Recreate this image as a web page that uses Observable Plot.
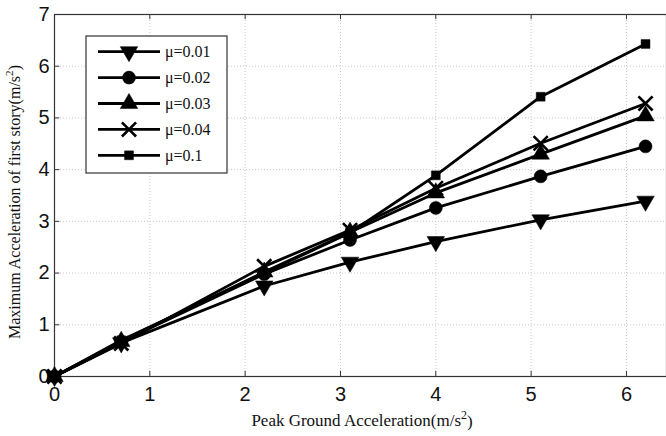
<!DOCTYPE html>
<html>
<head>
<meta charset="utf-8">
<script src="https://cdn.jsdelivr.net/npm/d3@7"></script>
<script src="https://cdn.jsdelivr.net/npm/@observablehq/plot@0.6"></script>
<style>
  html, body { margin: 0; padding: 0; background: #fff; }
  #chart { width: 666px; height: 436px; }
</style>
</head>
<body>
<div id="chart"></div>
<script>
// ---- data ----
const pga = [0, 0.7, 2.2, 3.1, 4.0, 5.1, 6.2];
const seriesNames = ["μ=0.01", "μ=0.02", "μ=0.03", "μ=0.04", "μ=0.1"];
const mu001 = [0, 0.65, 1.75, 2.21, 2.61, 3.03, 3.39];
const mu002 = [0, 0.67, 1.98, 2.64, 3.26, 3.87, 4.45];
const mu003 = [0, 0.68, 2.02, 2.79, 3.55, 4.30, 5.04];
const mu004 = [0, 0.64, 2.13, 2.83, 3.64, 4.51, 5.28];
const mu01  = [0, 0.70, 2.00, 2.78, 3.89, 5.41, 6.43];
const xTicks = [0, 1, 2, 3, 4, 5, 6];
const yTicks = [0, 1, 2, 3, 4, 5, 6, 7];
const xLabel = ["Peak Ground Acceleration(m/s", "2", ")"];
const yLabel = ["Maximum Acceleration of first story(m/s", "2", ")"];

const allSeries = [mu001, mu002, mu003, mu004, mu01];
const symbolSpec = [
  {symbol: "triangle", rotate: 180, r: 6.5, filled: true},
  {symbol: "circle", rotate: 0, r: 6.5, filled: true},
  {symbol: "triangle", rotate: 0, r: 6.5, filled: true},
  {symbol: "times", rotate: 0, r: 6.5, filled: false},
  {symbol: "square", rotate: 0, r: 5, filled: true}
];

const rows = [];
allSeries.forEach((vals, si) => vals.forEach((v, i) => rows.push({x: pga[i], y: v, s: seriesNames[si], si})));

const W = 666, H = 436, ML = 54, MR = 0, MT = 14, MB = 60;
const lineW = 2.8;

const marks = [
  Plot.gridX(xTicks, {stroke: "#bbb", strokeOpacity: 0.8, strokeDasharray: "1,2"}),
  Plot.gridY(yTicks, {stroke: "#bbb", strokeOpacity: 0.8, strokeDasharray: "1,2"}),
  Plot.axisX(xTicks, {tickSize: 0, tickPadding: 10, label: null, fontSize: 20, tickFormat: d3.format("d")}),
  Plot.axisY(yTicks, {tickSize: 0, tickPadding: 5, label: null, fontSize: 20, tickFormat: d3.format("d")}),
  Plot.ruleX(xTicks, {y1: 0, y2: 0.1, stroke: "#333"}),
  Plot.ruleX(xTicks, {y1: 6.9, y2: 7, stroke: "#333"}),
  Plot.ruleY(yTicks, {x1: 0, x2: 0.055, stroke: "#333"}),
  Plot.frame({stroke: "#333", strokeWidth: 1.2})
];
seriesNames.forEach((name, si) => {
  const d = rows.filter(r => r.si === si);
  marks.push(Plot.line(d, {x: "x", y: "y", stroke: "black", strokeWidth: lineW}));
  const sp = symbolSpec[si];
  marks.push(Plot.dot(d, {
    x: "x", y: "y", symbol: () => sp.symbol, r: sp.r, rotate: sp.rotate,
    fill: sp.filled ? "black" : "none", stroke: "black", strokeWidth: sp.filled ? 0.5 : 2.6
  }));
});

const svgPlot = Plot.plot({
  width: W, height: H,
  marginLeft: ML, marginRight: MR, marginTop: MT, marginBottom: MB,
  x: {domain: [0, 6.42]},
  y: {domain: [0, 7]},
  style: {fontFamily: "'Liberation Sans', Arial, sans-serif", fontSize: "20px", color: "#111", background: "#fff", overflow: "visible"},
  marks
});
document.getElementById("chart").appendChild(svgPlot);

// ---- legend and axis titles ----
const svg = d3.select(svgPlot);
const serif = "'Liberation Serif', 'Times New Roman', serif";

function addLabel(parts, x, y, rotate, fs) {
  const t = svg.append("text")
    .attr("text-anchor", "middle")
    .attr("font-family", serif)
    .attr("font-size", fs)
    .attr("fill", "#111")
    .attr("transform", `translate(${x},${y})` + (rotate ? " rotate(-90)" : ""));
  t.append("tspan").text(parts[0]);
  t.append("tspan").attr("font-size", fs * 0.7).attr("dy", "-0.6em").text(parts[1]);
  t.append("tspan").attr("dy", "0.45em").text(parts[2]);
}
addLabel(xLabel, 362, 426, false, 17);
addLabel(yLabel, 20, 202, true, 16);

const lg = svg.append("g");
const bx = 86, by = 36, bw = 141, bh = 137;
lg.append("rect").attr("x", bx).attr("y", by).attr("width", bw).attr("height", bh)
  .attr("fill", "white").attr("stroke", "#333").attr("stroke-width", 1.2);
const symMap = {triangle: d3.symbolTriangle, circle: d3.symbolCircle, square: d3.symbolSquare, times: d3.symbolTimes};
seriesNames.forEach((name, i) => {
  const yy = 51.7 + i * 25.9;
  lg.append("line").attr("x1", 98).attr("x2", 160).attr("y1", yy).attr("y2", yy)
    .attr("stroke", "black").attr("stroke-width", lineW);
  const sp = symbolSpec[i];
  lg.append("path")
    .attr("d", d3.symbol(symMap[sp.symbol], Math.PI * sp.r * sp.r)())
    .attr("transform", `translate(129,${yy}) rotate(${sp.rotate})`)
    .attr("fill", sp.filled ? "black" : "none")
    .attr("stroke", "black").attr("stroke-width", sp.filled ? 0.5 : 2.6);
  lg.append("text").attr("x", 165).attr("y", yy).attr("dy", "0.35em")
    .attr("text-anchor", "start")
    .attr("font-family", serif).attr("font-size", 16).attr("fill", "#111").text(name);
});
</script>
</body>
</html>
